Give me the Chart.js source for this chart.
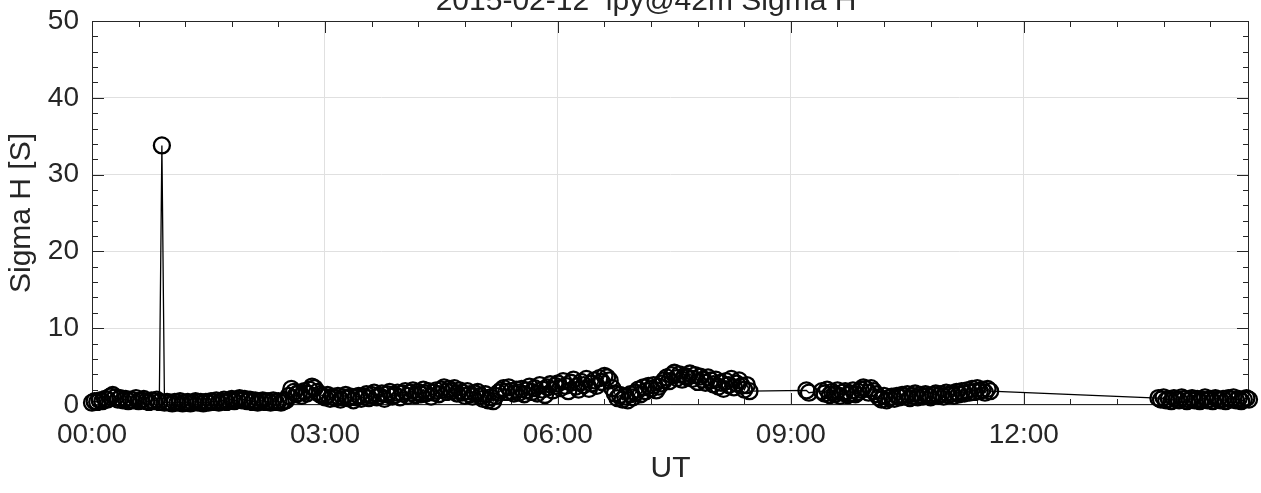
<!DOCTYPE html>
<html>
<head>
<meta charset="utf-8">
<script src="https://cdn.jsdelivr.net/npm/chart.js@4.4.0/dist/chart.umd.min.js"></script>
<style>
    html, body { margin: 0; padding: 0; background: #fff; }
    #wrap { width: 1261px; height: 493px; }
</style>
</head>
<body>
<div id="wrap"><canvas id="sigma-h" width="1261" height="493"></canvas></div>
<script>
    // Sigma H [S], one value every 2 minutes; runs start at the given minute of day
    var stepMin = 2;

    var run1Start = 0;      // 00:00
    var run1Values = [
        0.3, 0.5, 0.4, 0.6, 0.5, 0.8, 0.7, 1.1, 1.3, 1.0, 0.7, 0.9, 0.6, 0.8, 0.5,
        0.7, 0.6, 0.9, 0.5, 0.6, 0.8, 0.5, 0.4, 0.6, 0.5, 0.7, 0.4, 33.8, 0.3, 0.4,
        0.3, 0.2, 0.4, 0.3, 0.5, 0.2, 0.3, 0.4, 0.2, 0.3, 0.5, 0.3, 0.4, 0.2, 0.4,
        0.3, 0.5, 0.4, 0.6, 0.3, 0.5, 0.7, 0.4, 0.6, 0.8, 0.5, 0.7, 0.9, 0.6, 0.8,
        0.5, 0.7, 0.4, 0.6, 0.3, 0.5, 0.6, 0.4, 0.5, 0.3, 0.6, 0.4, 0.5, 0.3, 0.5,
        0.6, 1.2, 2.1, 1.7, 1.4, 1.6, 1.2, 1.8, 1.5, 2.0, 2.4, 2.2, 1.7, 1.4, 1.2,
        1.0, 1.3, 0.8, 1.1, 0.9, 1.2, 0.7, 1.0, 1.3, 0.9, 1.1, 0.6, 1.0, 1.2, 0.8,
        1.1, 1.4, 0.9, 1.3, 1.6, 1.0, 1.2, 1.5, 0.8, 1.4, 1.7, 1.1, 1.3, 1.6, 1.0,
        1.5, 1.8, 1.2, 1.6, 1.9, 1.3, 1.7, 1.4, 2.0, 1.5, 1.8, 1.1, 1.6, 1.9, 1.4,
        2.0, 2.3, 1.7, 2.1, 1.8, 2.2, 1.5, 1.9, 1.6, 1.2, 1.8, 1.4, 1.1, 1.5, 1.7,
        1.2, 0.8, 1.4, 0.6, 1.0, 0.5, 1.2, 1.6, 1.9, 2.2, 1.7, 2.3, 1.8, 1.5, 2.0,
        1.6, 2.1, 1.4, 1.9, 2.4, 1.7, 2.2, 1.5, 2.6, 2.0, 1.3, 2.3, 2.7, 1.9, 2.5,
        2.8, 2.2, 3.1, 2.5, 1.8, 2.9, 3.3, 2.4, 2.0, 3.0, 2.6, 3.4, 2.1, 2.8, 3.2,
        2.5, 3.5, 3.0, 3.8, 3.6, 3.2, 2.2, 1.5, 0.9, 1.3, 0.7, 1.1, 0.6, 1.4, 1.0,
        1.6, 2.0, 1.4, 2.3, 1.8, 2.5, 2.1, 2.6, 1.9, 2.4, 2.8, 3.2, 3.6, 3.1, 3.9,
        4.2, 3.5, 4.0, 3.3, 3.8, 3.6, 4.1, 3.4, 3.9, 3.0, 3.7, 3.3, 2.9, 3.6, 3.2,
        2.7, 3.3, 2.4, 2.9, 2.1, 3.1, 2.6, 3.4, 2.3, 2.8, 3.2, 2.5, 2.0, 2.6, 1.8
    ];

    var run2Start = 552;    // 09:12
    var run2Values = [1.9, 1.6];

    var run3Start = 564;    // 09:24
    var run3Values = [
        1.8, 1.5, 2.0, 1.3, 1.7, 1.4, 1.9, 1.2, 1.6, 1.8, 1.3, 1.5, 1.9, 1.4, 1.7,
        2.0, 2.3, 2.1, 1.6, 2.2, 1.8, 1.4, 1.0, 0.7, 1.2, 0.6, 0.9, 1.1, 0.8, 1.2,
        1.0, 1.3, 1.1, 1.4, 0.9, 1.2, 1.5, 1.0, 1.3, 1.1, 1.4, 1.2, 1.0, 1.3, 1.5,
        1.2, 1.4, 1.1, 1.6, 1.3, 1.5, 1.2, 1.7, 1.4, 1.8, 1.5, 1.9, 1.6, 2.1, 1.7,
        2.2, 1.8, 2.0, 1.6, 2.1, 1.8
    ];

    var run4Start = 824;    // 13:44
    var run4Values = [
        0.9, 0.7, 1.0, 0.6, 0.8, 0.5, 0.9, 0.7, 0.6, 1.0, 0.8, 0.5,
        0.7, 0.9, 0.6, 0.8, 0.5, 0.7, 1.0, 0.6, 0.8, 0.5, 0.9, 0.7,
        0.6, 0.8, 0.5, 0.9, 0.7, 1.0, 0.6, 0.8, 0.5, 0.7, 0.9, 0.7
    ];

    var xMinMin = 0, xMaxMin = 894;       // minutes of day shown
    var xMajorTicks = [0, 180, 360, 540, 720];
    var xMinorStepMin = 36;
    var yMin = 0, yMax = 50, yTickStep = 10, yMinorStep = 2;

    var titleText = '2015-02-12  ipy@42m Sigma H';
    var xTitle = 'UT';
    var yTitle = 'Sigma H [S]';

    var fontFamily = '"Liberation Sans", Arial, Helvetica, sans-serif';
    var textColor = '#262626';

    function toPoints(start, values) {
        return values.map(function (v, i) {
            return { x: start + i * stepMin, y: v };
        });
    }

    function hhmm(minutes) {
        var h = Math.floor(minutes / 60), m = Math.round(minutes % 60);
        return (h < 10 ? '0' : '') + h + ':' + (m < 10 ? '0' : '') + m;
    }

    var points = toPoints(run1Start, run1Values)
        .concat(toPoints(run2Start, run2Values))
        .concat(toPoints(run3Start, run3Values))
        .concat(toPoints(run4Start, run4Values));

    // box round the axes with inward ticks on all four sides, plus the title
    var axisFrame = {
        id: 'axisFrame',
        beforeDatasetsDraw: function (chart) {
            var ctx = chart.ctx, a = chart.chartArea;
            var xs = chart.scales.x, ys = chart.scales.y;
            var majorLen = 12, minorLen = 6;
            ctx.save();
            ctx.strokeStyle = textColor;
            ctx.lineWidth = 1;
            ctx.beginPath();
            var v, px, len;
            for (v = yMin; v <= yMax + 1e-9; v += yMinorStep) {
                px = Math.round(ys.getPixelForValue(v)) + 0.5;
                len = (Math.abs(v % yTickStep) < 1e-9) ? majorLen : minorLen;
                ctx.moveTo(a.left, px); ctx.lineTo(a.left + len, px);
                ctx.moveTo(a.right, px); ctx.lineTo(a.right - len, px);
            }
            for (v = xMinMin; v <= xMaxMin; v += xMinorStepMin) {
                px = Math.round(xs.getPixelForValue(v)) + 0.5;
                len = (xMajorTicks.indexOf(v) >= 0) ? majorLen : minorLen;
                ctx.moveTo(px, a.bottom); ctx.lineTo(px, a.bottom - len);
                ctx.moveTo(px, a.top); ctx.lineTo(px, a.top + len);
            }
            ctx.stroke();
            ctx.strokeRect(Math.round(a.left) + 0.5, Math.round(a.top) + 0.5,
                Math.round(a.right - a.left) - 1, Math.round(a.bottom - a.top) - 1);
            ctx.restore();
        },
        afterDraw: function (chart) {
            var ctx = chart.ctx;
            ctx.save();
            ctx.fillStyle = textColor;
            ctx.font = '30px ' + fontFamily;
            ctx.textAlign = 'center';
            ctx.textBaseline = 'alphabetic';
            ctx.fillText(titleText, 646, 10);
            ctx.restore();
        }
    };

    var ctx = document.getElementById('sigma-h').getContext('2d');
    var chart = new Chart(ctx, {
        type: 'line',
        data: {
            datasets: [{
                label: 'Sigma H',
                data: points,
                borderColor: '#000000',
                borderWidth: 1.3,
                pointStyle: 'circle',
                pointRadius: 8,
                pointHoverRadius: 8,
                pointBorderWidth: 2.3,
                pointBorderColor: '#000000',
                pointBackgroundColor: 'rgba(0,0,0,0)',
                tension: 0,
                clip: false
            }]
        },
        options: {
            responsive: false,
            animation: false,
            events: [],
            layout: { padding: { top: 21, right: 12, left: 0, bottom: 0 } },
            plugins: {
                legend: { display: false },
                tooltip: { enabled: false },
                title: { display: false }
            },
            scales: {
                x: {
                    type: 'linear',
                    min: xMinMin,
                    max: xMaxMin,
                    afterBuildTicks: function (scale) {
                        scale.ticks = xMajorTicks.map(function (v) { return { value: v }; });
                    },
                    afterFit: function (scale) {
                        scale.height = 88;
                        scale.paddingLeft = 0;
                        scale.paddingRight = 0;
                    },
                    grid: { color: '#e0e0e0', drawTicks: false },
                    border: { display: false },
                    ticks: {
                        autoSkip: false,
                        maxRotation: 0,
                        padding: 13,
                        color: textColor,
                        font: { family: fontFamily, size: 28 },
                        callback: function (value) { return hhmm(value); }
                    },
                    title: {
                        display: true,
                        text: xTitle,
                        color: textColor,
                        font: { family: fontFamily, size: 30 },
                        padding: { top: 0, bottom: 6 }
                    }
                },
                y: {
                    min: yMin,
                    max: yMax,
                    afterFit: function (scale) {
                        scale.width = 92;
                        scale.paddingTop = 0;
                        scale.paddingBottom = 0;
                    },
                    grid: { color: '#e0e0e0', drawTicks: false },
                    border: { display: false },
                    ticks: {
                        stepSize: yTickStep,
                        padding: 13,
                        color: textColor,
                        font: { family: fontFamily, size: 28 }
                    },
                    title: {
                        display: true,
                        text: yTitle,
                        color: textColor,
                        font: { family: fontFamily, size: 30 },
                        padding: { top: 4, bottom: 0 }
                    }
                }
            }
        },
        plugins: [axisFrame]
    });
</script>
</body>
</html>
